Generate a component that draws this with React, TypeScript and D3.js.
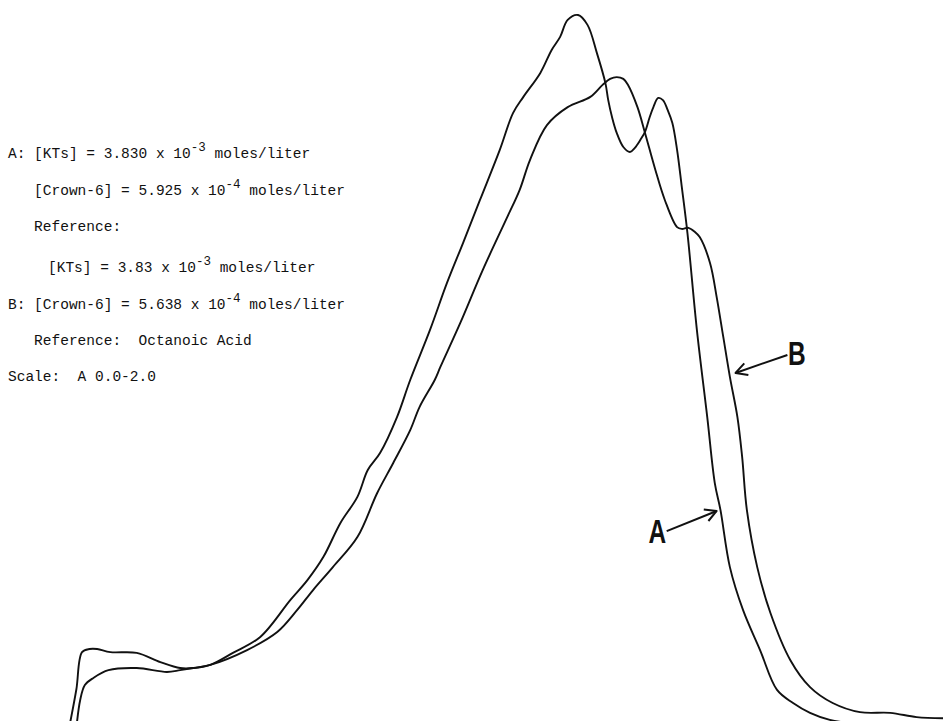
import React, { useEffect, useRef } from 'react';
import * as d3 from 'd3';

// sweep position (0-100 % of chart width) and absorbance (0.0-2.0)
const SWEEP_A = [7.4, 8.1, 8.7, 9.5, 10.3, 11.7, 14.5, 17.0, 19.1, 20.5, 22.3, 24.7, 27.6, 30.8, 32.6, 34.3, 36.1, 37.9, 39.0, 40.3, 42.1, 43.5, 45.6, 47.4, 49.1, 50.9, 53.0, 54.4, 55.5, 57.3, 58.5, 59.4, 60.2, 61.3, 62.3, 63.3, 64.2, 64.5, 64.9, 65.4, 66.1, 66.8, 67.3, 67.9, 68.4, 68.9, 69.3, 69.8, 70.3, 70.8, 71.3, 71.8, 72.3, 72.9, 73.9, 75.0, 75.8, 76.4, 77.4, 78.8, 80.6, 82.4, 84.1, 85.9, 88.0, 90.1, 95.4];
const ABS_A = [-0.01, 0.09, 0.195, 0.204, 0.204, 0.195, 0.193, 0.167, 0.15, 0.15, 0.159, 0.193, 0.238, 0.343, 0.399, 0.465, 0.561, 0.635, 0.711, 0.759, 0.861, 0.966, 1.108, 1.241, 1.354, 1.476, 1.618, 1.722, 1.768, 1.836, 1.901, 1.938, 1.986, 2.0, 1.972, 1.892, 1.807, 1.759, 1.711, 1.666, 1.626, 1.612, 1.623, 1.646, 1.669, 1.711, 1.74, 1.765, 1.759, 1.731, 1.694, 1.618, 1.513, 1.382, 1.108, 0.861, 0.674, 0.598, 0.436, 0.314, 0.201, 0.088, 0.051, 0.023, 0.003, -0.006, -0.02];

const SWEEP_B = [8.1, 8.5, 9.0, 9.9, 11.5, 14.5, 17.7, 19.1, 20.5, 22.3, 26.2, 29.4, 31.5, 33.2, 35.3, 37.9, 40.0, 41.7, 43.5, 44.5, 46.1, 46.7, 48.8, 51.2, 53.8, 55.1, 56.2, 58.0, 60.2, 62.6, 63.9, 64.7, 65.4, 66.1, 66.6, 67.6, 68.4, 69.5, 70.5, 71.8, 72.3, 73.0, 73.7, 74.2, 75.3, 76.0, 76.7, 77.4, 78.2, 78.7, 79.2, 80.3, 81.7, 83.8, 85.9, 88.3, 91.2, 94.4, 97.2, 100];
const ABS_B = [-0.02, 0.059, 0.102, 0.122, 0.144, 0.15, 0.139, 0.144, 0.15, 0.159, 0.201, 0.252, 0.314, 0.371, 0.436, 0.521, 0.646, 0.731, 0.824, 0.89, 0.966, 1.003, 1.127, 1.278, 1.428, 1.504, 1.589, 1.688, 1.739, 1.768, 1.802, 1.819, 1.824, 1.819, 1.802, 1.739, 1.666, 1.561, 1.476, 1.399, 1.394, 1.397, 1.385, 1.371, 1.297, 1.201, 1.088, 0.975, 0.861, 0.748, 0.598, 0.436, 0.306, 0.173, 0.096, 0.051, 0.025, 0.023, 0.011, 0.008];

// [label, label x, label y, arrow tail x, tail y, tip x, tip y] in sweep / absorbance units
const LABELS: [string, number, number, number, number, number, number][] = [
  ['B', 84.5, 1.008, 83.5, 1.037, 78.0, 0.986],
  ['A', 69.7, 0.504, 70.7, 0.538, 76.0, 0.595],
];

// each line is a list of [text, superscript?] pieces with its indent in characters
const NOTE_INDENT = [0, 3, 3, 4.6, 0, 3, 0];
const NOTE_LINES: [string, boolean][][] = [
  [['A: [KTs] = 3.830 x 10', false], ['-3', true], [' moles/liter', false]],
  [['[Crown-6] = 5.925 x 10', false], ['-4', true], [' moles/liter', false]],
  [['Reference:', false]],
  [['[KTs] = 3.83 x 10', false], ['-3', true], [' moles/liter', false]],
  [['B: [Crown-6] = 5.638 x 10', false], ['-4', true], [' moles/liter', false]],
  [['Reference:  Octanoic Acid', false]],
  [['Scale:  A 0.0-2.0', false]],
];

const App: React.FC = () => {
  const svgRef = useRef<SVGSVGElement>(null);

  useEffect(() => {
    if (!svgRef.current) return;
    const width = 943;
    const height = 721;

    const svg = d3.select(svgRef.current);
    svg.selectAll('*').remove();

    const x = d3.scaleLinear().domain([0, 100]).range([0, width]);
    const y = d3.scaleLinear().domain([0, 2]).range([height, 15]);

    const line = d3.line<[number, number]>()
      .x((d) => x(d[0]))
      .y((d) => y(d[1]))
      .curve(d3.curveCatmullRom.alpha(0.5));

    const series = [
      SWEEP_A.map((v, i) => [v, ABS_A[i]] as [number, number]),
      SWEEP_B.map((v, i) => [v, ABS_B[i]] as [number, number]),
    ];

    svg.selectAll('.trace')
      .data(series)
      .enter()
      .append('path')
      .attr('class', 'trace')
      .attr('d', (d) => line(d))
      .attr('fill', 'none')
      .attr('stroke', '#111')
      .attr('stroke-width', 1.9)
      .attr('stroke-linejoin', 'round');

    // notes block
    const pitch = 8.7;
    const notes = svg.append('g')
      .attr('font-family', '"Liberation Mono", "Courier New", monospace')
      .attr('font-size', '14.5px')
      .attr('fill', '#111');

    const baselines = [158, 195, 231, 272, 309, 345, 381];
    NOTE_LINES.forEach((pieces, i) => {
      const t = notes.append('text')
        .attr('x', 8 + NOTE_INDENT[i] * pitch)
        .attr('y', baselines[i])
        .style('white-space', 'pre');
      let shift = 0;
      pieces.forEach(([s, sup]) => {
        // superscripts go up 7px, the next piece comes back down
        const dy = sup ? -7 : shift;
        shift = sup ? 7 : 0;
        t.append('tspan')
          .attr('font-size', sup ? '12.5px' : null)
          .attr('dy', dy)
          .text(s);
      });
    });

    // arrow labels
    const ann = svg.append('g').attr('stroke', '#111').attr('fill', 'none');
    LABELS.forEach(([name, lx, ly, tx, ty, hx, hy]) => {
      const x0 = x(tx), y0 = y(ty), x1 = x(hx), y1 = y(hy);
      ann.append('line')
        .attr('x1', x0).attr('y1', y0).attr('x2', x1).attr('y2', y1)
        .attr('stroke-width', 2);
      const ang = Math.atan2(y0 - y1, x0 - x1);
      const len = 13;
      const spread = 0.5;
      const head = d3.path();
      head.moveTo(x1 + len * Math.cos(ang - spread), y1 + len * Math.sin(ang - spread));
      head.lineTo(x1, y1);
      head.lineTo(x1 + len * Math.cos(ang + spread), y1 + len * Math.sin(ang + spread));
      ann.append('path')
        .attr('d', head.toString())
        .attr('stroke-width', 2)
        .attr('stroke-linejoin', 'round');

      svg.append('text')
        .attr('transform', `translate(${x(lx)}, ${y(ly)}) scale(0.72, 1)`)
        .attr('text-anchor', 'middle')
        .attr('font-family', '"Liberation Sans Narrow", "Liberation Sans", sans-serif')
        .attr('font-weight', 'bold')
        .attr('font-size', '34px')
        .attr('fill', '#111')
        .text(name);
    });
  }, []);

  return (
    <svg
      ref={svgRef}
      width={943}
      height={721}
      viewBox="0 0 943 721"
      style={{ position: 'absolute', left: 0, top: 0, background: '#fff' }}
    />
  );
};

export default App;
